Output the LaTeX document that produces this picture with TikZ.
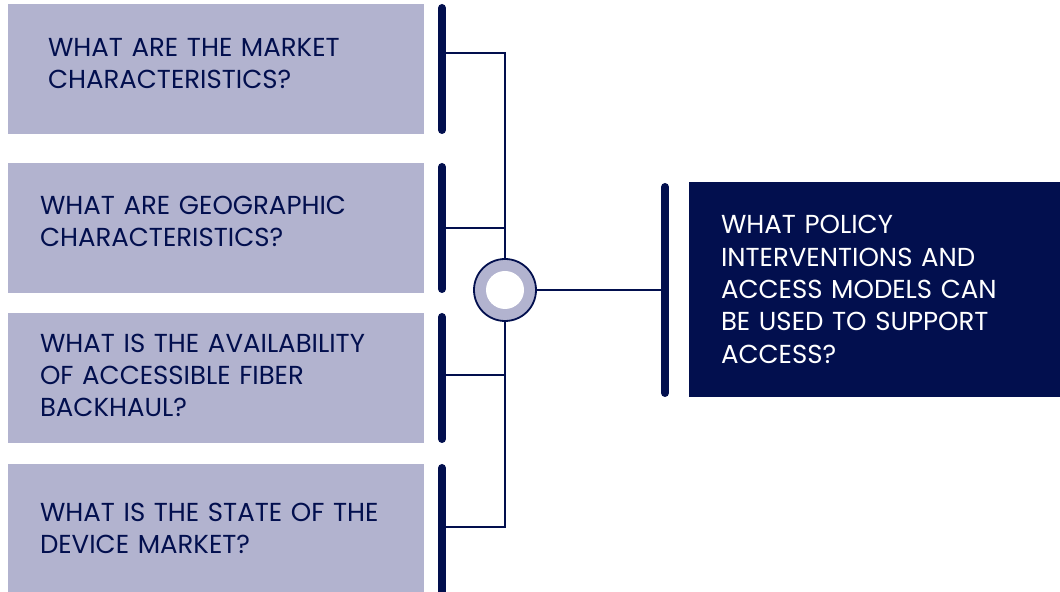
\documentclass[tikz,border=0pt]{standalone}
\usepackage{fontspec}
\setmainfont{Poppins}
\usetikzlibrary{positioning}

\definecolor{navy}{HTML}{020F4E}
\definecolor{lilac}{HTML}{B2B3CF}

\tikzset{
  qbox/.style={fill=lilac, text=navy, outer sep=0pt, minimum width=208pt,
    minimum height=65pt, text width=176pt, inner xsep=16pt, align=left,
    font=\fontsize{13}{16}\selectfont},
  goalbox/.style={fill=navy, text=white, outer sep=0pt, minimum width=185.5pt,
    minimum height=107.5pt, text width=153.5pt, inner xsep=16pt, align=left,
    font=\fontsize{13}{16.2}\selectfont},
  bar/.style={navy, line width=4pt, line cap=round},
  link/.style={navy, line width=1pt},
  hub/.style={circle, draw=navy, line width=0.9pt, fill=lilac, minimum size=31pt, inner sep=0pt},
}

\begin{document}
\begin{tikzpicture}[x=0.5pt,y=0.5pt]
\useasboundingbox (0,0) rectangle (1060,-592);

% questions on the left
\node[qbox, anchor=north west, text width=168pt, inner xsep=20pt, text depth=22pt] (q1) at (8,-4)
  {WHAT ARE THE MARKET\\CHARACTERISTICS?};
\node[qbox, below=14.5pt of q1, text depth=23pt] (q2) {WHAT ARE GEOGRAPHIC\\CHARACTERISTICS?};
\node[qbox, below=10pt of q2, text depth=35pt] (q3) {WHAT IS THE AVAILABILITY\\OF ACCESSIBLE FIBER\\BACKHAUL?};
\node[qbox, below=10.5pt of q3, minimum height=64pt] (q4) {WHAT IS THE STATE OF THE\\DEVICE MARKET?};

% bars beside the questions
\draw[bar] ([xshift=9pt,yshift=-2pt]q1.north east) -- ([xshift=9pt,yshift=2pt]q1.south east);
\draw[bar] ([xshift=9pt,yshift=-2pt]q2.north east) -- ([xshift=9pt,yshift=2pt]q2.south east);
\draw[bar] ([xshift=9pt,yshift=-2pt]q3.north east) -- ([xshift=9pt,yshift=2pt]q3.south east);
\draw[bar] ([xshift=9pt,yshift=-2pt]q4.north east) -- ([xshift=9pt,yshift=-6pt]q4.south east);

\coordinate (j1) at (442,-53);
\coordinate (j2) at (442,-228);
\coordinate (j3) at (442,-375);
\coordinate (j4) at (442,-527);

% hub
\node[hub] (hub) at (505,-290) {};
\node[circle, fill=white, minimum size=19pt, inner sep=0pt] (hubin) at (hub) {};

\draw[link] (j1) -| (hub.north);
\draw[link] (j2) -| (hub.north);
\draw[link] (j3) -| (hub.south);
\draw[link] (j4) -| (hub.south);

% goal
\coordinate (gtop) at (665,-187);
\coordinate (gbot) at (665,-393);
\draw[bar] (gtop) -- (gbot);
\draw[link] (hub.east) -- (hub.east -| gtop);

\node[goalbox, anchor=north west] (goal) at (689,-182)
  {WHAT POLICY\\INTERVENTIONS AND\\ACCESS MODELS CAN\\BE USED TO SUPPORT\\ACCESS?};
\end{tikzpicture}
\end{document}
